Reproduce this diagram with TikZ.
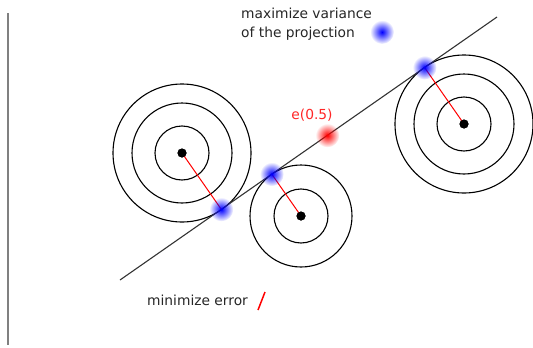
\documentclass[tikz,border=0pt]{standalone}
\usepackage{fontspec}
\setmainfont{DejaVu Sans}
\usetikzlibrary{calc,fadings}
\tikzfading[name=fuzzy, inner color=transparent!0, outer color=transparent!100]

\begin{document}
\begin{tikzpicture}[
    x=1pt, y=-1pt,
    font=\fontsize{13.8}{19}\selectfont,
    ring/.style={draw=black, line width=1.1pt},
    dotnode/.style={circle, fill=black, inner sep=0pt, minimum size=9pt},
    axis/.style={draw=black!80, line width=1.1pt},
    errline/.style={draw=red, line width=1pt},
    glow/.style={fill=#1, path fading=fuzzy},
    lbl/.style={text=black!85, align=left, inner sep=0pt}
]
    \useasboundingbox (0,0) rectangle (533,348);

    % 1. Left border line
    \draw[gray, line width=2pt] (7.5,13) -- (7.5,345);

    % 2. Data clusters
    \node[dotnode] (c1) at (182,153) {};
    \node[dotnode] (c2) at (301,216) {};
    \node[dotnode] (c3) at (464,124) {};
    \draw[ring] (c1.center) circle (27pt) circle (50pt) circle (69pt);
    \draw[ring] (c2.center) circle (27pt) circle (51pt);
    \draw[ring] (c3.center) circle (27pt) circle (50pt) circle (69pt);

    % 3. Projection axis
    \coordinate (lstart) at (120,280);
    \coordinate (lend) at (497,17);
    \draw[axis] (lstart) -- (lend);

    % Projections onto the axis
    \coordinate (p1) at ($(lstart)!(c1.center)!(lend)$);
    \coordinate (p2) at ($(lstart)!(c2.center)!(lend)$);
    \coordinate (p3) at ($(lstart)!(c3.center)!(lend)$);
    \draw[errline] (c1.center) -- (p1);
    \draw[errline] (c2.center) -- (p2);
    \draw[errline] (c3.center) -- (p3);
    \node[dotnode] at (c1) {};
    \node[dotnode] at (c2) {};
    \node[dotnode] at (c3) {};
    \fill[glow=blue] (p1) circle (12pt);
    \fill[glow=blue] (p2) circle (12pt);
    \fill[glow=blue] (p3) circle (12pt);

    % 4. Mean point
    \coordinate (mean) at ($(lstart)!0.55!(lend)$);
    \fill[glow=red] (mean) circle (12pt);
    \node[text=red!85, inner sep=0pt] (meanlbl) at (312,115) {e(0.5)};

    % 5. Legend
    \node[lbl, anchor=west] (maxlbl) at (241,24) {maximize variance\\of the projection};
    \coordinate (maxdot) at (382,32);
    \fill[glow=blue] (maxdot) circle (12pt);
    \node[lbl, anchor=west] (minlbl) at (147,300) {minimize error};
    \coordinate (slasha) at (258,310);
    \coordinate (slashb) at (265,292);
    \draw[errline, line width=1.5pt] (slasha) -- (slashb);

\end{tikzpicture}
\end{document}
